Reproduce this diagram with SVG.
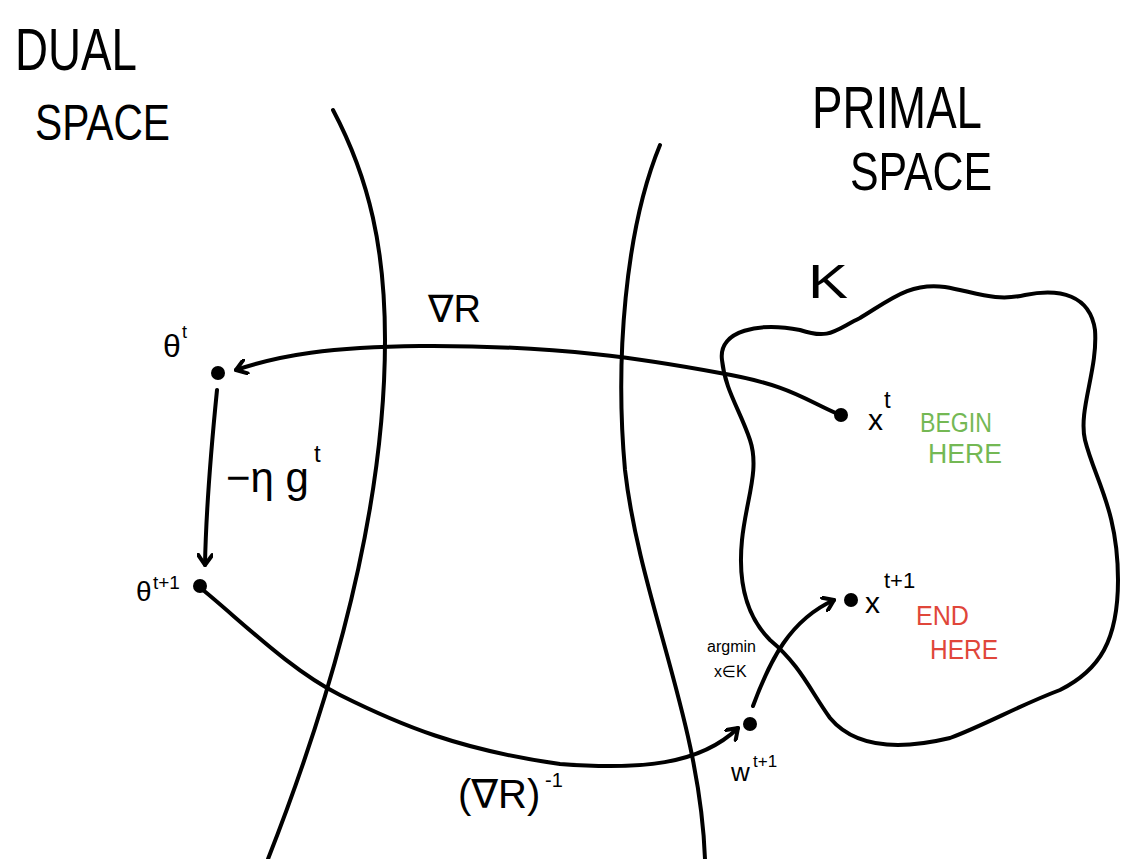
<svg xmlns="http://www.w3.org/2000/svg" width="1125" height="859" viewBox="0 0 1125 859">
<style>
.ln{fill:none;stroke:#000;stroke-width:4;stroke-linecap:round;stroke-linejoin:round}
.t{font-family:"Liberation Sans","DejaVu Sans",sans-serif;fill:#000}
.g{fill:#74b854}
.r{fill:#e0463a}
</style>
<defs>
<marker id="ah" markerWidth="16" markerHeight="16" refX="12" refY="8" orient="auto" markerUnits="userSpaceOnUse">
<path d="M2,1 L12,8 L2,15" fill="none" stroke="#000" stroke-width="4" stroke-linecap="round" stroke-linejoin="round"/>
</marker>
</defs>
<rect width="1125" height="859" fill="#fff"/>
<g id="titles">
<text class="t" x="15" y="70" font-size="60" textLength="122" lengthAdjust="spacingAndGlyphs">DUAL</text>
<text class="t" x="35" y="140" font-size="50" textLength="135" lengthAdjust="spacingAndGlyphs">SPACE</text>
<text class="t" x="812" y="128" font-size="60" textLength="170" lengthAdjust="spacingAndGlyphs">PRIMAL</text>
<text class="t" x="850" y="190" font-size="54" textLength="142" lengthAdjust="spacingAndGlyphs">SPACE</text>
</g>
<g id="boundaries">
<path class="ln" d="M333,110 C370,180 385,250 385,340 C385,480 350,650 268,859"/>
<path class="ln" d="M660,145 C625,230 615,360 625,470 C640,600 700,720 705,859"/>
</g>
<g id="setK">
<path class="ln" d="M722,360 C718,330 760,322 800,330 C830,340 835,330 860,318 C890,300 910,282 945,287 C975,292 995,302 1025,295 C1060,288 1090,295 1095,330 C1098,370 1078,410 1085,440 C1095,480 1118,510 1118,580 C1118,640 1100,670 1060,690 C1020,705 985,725 950,738 C900,750 855,748 830,718 C810,690 800,665 770,640 C745,615 738,580 742,540 C746,500 760,470 750,440 C740,410 725,390 722,360 Z"/>
<text class="t" x="808" y="298" font-size="48" textLength="40" lengthAdjust="spacingAndGlyphs">K</text>
</g>
<g id="connectors">
<path class="ln" d="M838,414 C805,400 790,385 720,373 C650,360 560,345 420,346 C330,347 280,355 236,370" marker-end="url(#ah)"/>
<path class="ln" d="M217,390 C211,450 206,510 205,565" marker-end="url(#ah)"/>
<path class="ln" d="M203,590 C240,620 290,670 340,695 C400,725 460,750 560,764 C640,770 700,765 738,728" marker-end="url(#ah)"/>
<path class="ln" d="M753,706 C770,660 790,620 834,600" marker-end="url(#ah)"/>
</g>
<g id="theta_t">
<circle cx="218" cy="373" r="7"/>
<text class="t" x="163" y="357" font-size="32">θ</text>
<text class="t" x="182" y="338" font-size="18">t</text>
</g>
<g id="theta_t1">
<circle cx="200" cy="586" r="7"/>
<text class="t" x="136" y="601" font-size="28">θ</text>
<text class="t" x="153" y="589" font-size="19">t+1</text>
</g>
<g id="x_t">
<circle cx="841" cy="415" r="7"/>
<text class="t" x="868" y="430" font-size="30">x</text>
<text class="t" x="884" y="408" font-size="24">t</text>
<text class="t g" x="920" y="432" font-size="27" textLength="72" lengthAdjust="spacingAndGlyphs">BEGIN</text>
<text class="t g" x="928" y="463" font-size="27" textLength="74" lengthAdjust="spacingAndGlyphs">HERE</text>
</g>
<g id="x_t1">
<circle cx="851" cy="600" r="7"/>
<text class="t" x="865" y="613" font-size="30">x</text>
<text class="t" x="884" y="588" font-size="22">t+1</text>
<text class="t r" x="916" y="625" font-size="27" textLength="53" lengthAdjust="spacingAndGlyphs">END</text>
<text class="t r" x="930" y="659" font-size="27" textLength="68" lengthAdjust="spacingAndGlyphs">HERE</text>
</g>
<g id="w_t1">
<circle cx="750" cy="724" r="7"/>
<text class="t" x="731" y="781" font-size="26">w</text>
<text class="t" x="753" y="767" font-size="17">t+1</text>
<text class="t" x="707" y="652" font-size="16">argmin</text>
<text class="t" x="714" y="677" font-size="16">x∈K</text>
</g>
<g id="labels">
<text class="t" x="226" y="492" font-size="42">−η g</text>
<text class="t" x="314" y="462" font-size="24">t</text>
<text class="t" x="428" y="322" font-size="38">∇R</text>
<text class="t" x="458" y="808" font-size="40">(∇R)</text>
<text class="t" x="545" y="787" font-size="20">-1</text>
</g>
</svg>
